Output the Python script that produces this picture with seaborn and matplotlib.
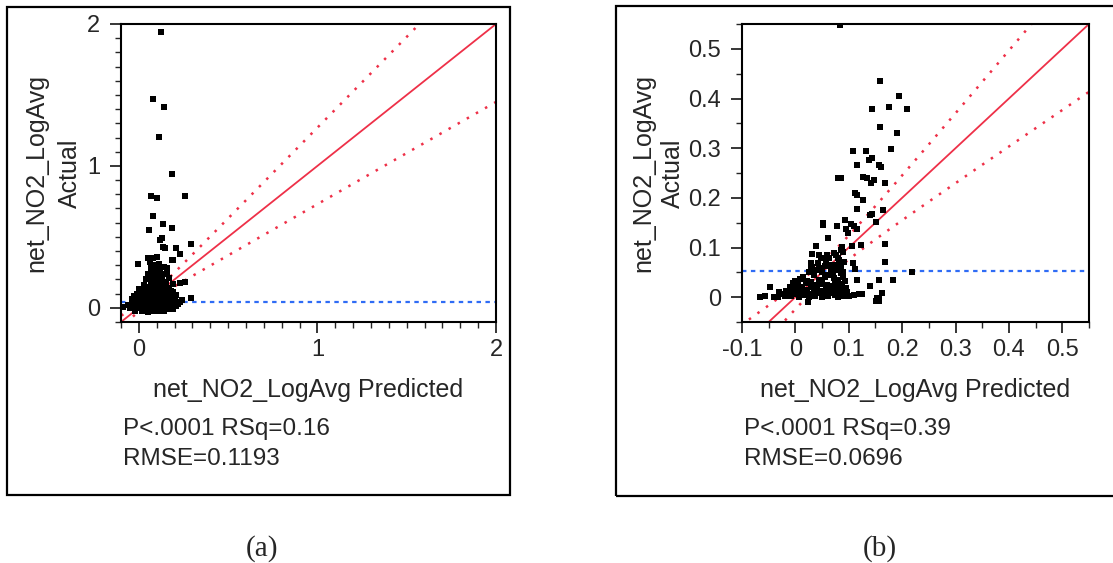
import matplotlib
matplotlib.use('Agg')
import matplotlib.pyplot as plt
from matplotlib.patches import Rectangle
from matplotlib.ticker import MultipleLocator, FuncFormatter
import numpy as np
import seaborn as sns

# panel (a): actual vs predicted
a_pred = [0.124, 0.081, 0.142, 0.113, 0.184, 0.068, 0.100, 0.258, 0.081, 0.058,
          0.133, 0.184, 0.131, 0.118, 0.290, 0.135, 0.146, 0.208, 0.230, 0.053,
          0.081, 0.100, 0.184, 0.193, -0.003, 0.258, 0.230, 0.290, -0.087, 0.230,
          0.240,
          0.06, 0.09, 0.11, 0.07, 0.12, 0.14, 0.10, 0.16, 0.05, 0.08,
          0.13, 0.17, 0.11, 0.04, 0.07, 0.15, 0.09, 0.12, 0.19, 0.03,
          0.06, 0.14, 0.17, 0.10,
          0.00, 0.02, 0.05, 0.08, 0.11, 0.13, 0.16, 0.19, -0.01, 0.03,
          0.06, 0.09, 0.12, 0.15, 0.18, 0.21, -0.03, 0.01, 0.04, 0.07,
          0.10, 0.13, 0.16, 0.20, -0.04, -0.01, 0.02, 0.05, 0.08, 0.11,
          0.14, 0.17, 0.22,
          -0.06, -0.05, -0.03, -0.02, 0.00, 0.01, 0.03, 0.04, 0.06, 0.07,
          0.09, 0.10, 0.12, 0.13, 0.15, 0.16, 0.18, 0.19, 0.21, -0.02,
          0.02, 0.05, 0.08, 0.11, 0.14,
          0.01, 0.03, 0.05, 0.07, 0.09, 0.11, 0.13, 0.15, 0.02, 0.04,
          0.06, 0.08, 0.10, 0.12, 0.14, 0.00, 0.03, 0.05, 0.08, 0.11,
          0.14, 0.17, 0.09, 0.06, 0.04, 0.12, 0.15, 0.18, 0.08, 0.10,
          0.13, 0.06, 0.09, 0.14, 0.11, 0.08, 0.12, 0.16, 0.18, 0.20,
          -0.03, -0.04, 0.02, 0.19, 0.07, 0.10, 0.13, 0.05, 0.03, 0.16]
a_actual = [1.946, 1.474, 1.417, 1.206, 0.941, 0.788, 0.772, 0.788, 0.647, 0.548,
            0.590, 0.560, 0.490, 0.478, 0.450, 0.428, 0.422, 0.419, 0.379, 0.353,
            0.349, 0.356, 0.337, 0.337, 0.309, 0.184, 0.173, 0.071, 0.004, 0.043,
            0.055,
            0.32, 0.30, 0.31, 0.28, 0.27, 0.29, 0.26, 0.25, 0.24, 0.23,
            0.22, 0.21, 0.20, 0.20, 0.19, 0.18, 0.17, 0.16, 0.17, 0.16,
            0.15, 0.15, 0.14, 0.14,
            0.13, 0.12, 0.12, 0.13, 0.12, 0.11, 0.12, 0.11, 0.10, 0.10,
            0.10, 0.10, 0.09, 0.09, 0.08, 0.09, 0.08, 0.08, 0.08, 0.07,
            0.07, 0.07, 0.06, 0.06, 0.06, 0.06, 0.05, 0.05, 0.05, 0.05,
            0.04, 0.04, 0.03,
            0.02, 0.00, 0.03, 0.01, 0.03, 0.00, 0.02, -0.01, 0.02, 0.00,
            0.03, -0.01, 0.02, 0.00, 0.02, -0.01, 0.01, -0.01, 0.01, -0.02,
            -0.02, -0.03, -0.02, -0.02, -0.02,
            0.04, 0.06, 0.03, 0.05, 0.06, 0.03, 0.05, 0.07, 0.09, 0.11,
            0.08, 0.10, 0.09, 0.06, 0.10, 0.06, 0.00, 0.01, 0.01, 0.01,
            0.01, 0.02, 0.13, 0.13, 0.14, 0.14, 0.13, 0.12, 0.16, 0.19,
            0.19, 0.21, 0.22, 0.24, 0.24, 0.26, 0.29, 0.28, 0.06, 0.03,
            0.01, 0.03, 0.02, 0.09, 0.11, 0.04, 0.03, 0.09, 0.08, 0.10]

# panel (b)
b_pred = [0.084, 0.159, 0.194, 0.143, 0.175, 0.209, 0.159, 0.191, 0.180, 0.107,
          0.133, 0.116, 0.137, 0.143, 0.157, 0.160, 0.080, 0.085, 0.126, 0.135,
          0.147, 0.141, 0.168, 0.112, 0.116, 0.126, 0.116, 0.164, 0.140, 0.144,
          0.151, 0.051, 0.052, 0.093, 0.104, 0.110, 0.078, 0.116, 0.095, 0.098,
          0.062, 0.122, 0.106, 0.038, 0.087, 0.168, 0.168, 0.107, 0.112, 0.219,
          0.116, 0.183, 0.156, 0.139, 0.110, 0.120, 0.124, 0.163, 0.023, -0.067,
          -0.057, -0.048, -0.040, 0.151, 0.156, 0.152, 0.157,
          -0.033, -0.028, -0.020, -0.014, -0.008, 0.000, 0.006, 0.012, 0.018, 0.025,
          0.031, 0.037, 0.044, 0.050, 0.056, 0.062, 0.068, 0.074, 0.080, 0.086,
          0.092,
          -0.005, 0.004, 0.012, 0.020, 0.030, 0.040, 0.050, 0.058, 0.066, 0.074,
          0.082, 0.090,
          -0.005, 0.000, 0.008, 0.014, 0.021, 0.029, 0.032, 0.040, 0.045, 0.032,
          0.045, 0.048, 0.057, 0.060, 0.063, 0.073, 0.076, 0.079, 0.082, 0.086,
          0.089, 0.067, 0.070, 0.072, 0.075, 0.078, 0.085, 0.090, 0.093, 0.088,
          0.095, 0.097, 0.100, 0.055, 0.050, 0.060, 0.035, 0.025, 0.030, 0.042,
          0.020, 0.065, 0.055, 0.080, 0.092,
          -0.030, -0.017, -0.004, 0.009, 0.022, 0.035, 0.047, 0.059, 0.071, 0.083,
          0.095, 0.030, 0.045, 0.060, 0.050, 0.070, 0.085, 0.040, 0.065, 0.080,
          0.090, 0.010, 0.000, -0.010, 0.075, 0.085]
b_actual = [0.547, 0.435, 0.406, 0.378, 0.383, 0.378, 0.343, 0.331, 0.299, 0.294,
            0.294, 0.267, 0.276, 0.280, 0.267, 0.263, 0.239, 0.239, 0.242, 0.239,
            0.235, 0.230, 0.230, 0.210, 0.206, 0.195, 0.178, 0.176, 0.165, 0.168,
            0.152, 0.149, 0.146, 0.155, 0.148, 0.143, 0.144, 0.137, 0.137, 0.130,
            0.120, 0.106, 0.103, 0.103, 0.101, 0.107, 0.071, 0.068, 0.056, 0.051,
            0.035, 0.035, 0.034, 0.023, 0.004, 0.007, 0.007, 0.008, -0.010, 0.000,
            0.002, 0.020, 0.000, -0.007, -0.002, -0.002, -0.007,
            0.000, 0.006, 0.003, 0.009, 0.002, 0.007, 0.001, 0.008, 0.004, 0.000,
            0.006, 0.003, 0.009, 0.001, 0.007, 0.002, 0.008, 0.004, 0.000, 0.006,
            0.003,
            0.018, 0.024, 0.016, 0.028, 0.020, 0.015, 0.026, 0.018, 0.022, 0.015,
            0.027, 0.019,
            0.028, 0.032, 0.036, 0.040, 0.033, 0.057, 0.061, 0.054, 0.058, 0.087,
            0.085, 0.079, 0.073, 0.085, 0.078, 0.088, 0.084, 0.078, 0.074, 0.094,
            0.091, 0.055, 0.045, 0.038, 0.030, 0.055, 0.048, 0.040, 0.033, 0.025,
            0.018, 0.010, 0.002, 0.040, 0.030, 0.025, 0.045, 0.050, 0.069, 0.069,
            0.015, 0.065, 0.062, 0.062, 0.070,
            0.011, 0.012, 0.010, 0.012, 0.011, 0.010, 0.012, 0.011, 0.010, 0.012,
            0.011, 0.030, 0.035, 0.045, 0.050, 0.065, 0.060, 0.025, 0.015, 0.035,
            0.050, 0.020, 0.015, 0.020, 0.020, 0.015]

y_label_lines = ['net_NO2_LogAvg', 'Actual']

# fit summary: mean of actual, centre and spread of the confidence curves
panels = [
    dict(pred=a_pred, actual=a_actual, mean=0.041, xbar=0.04, k=0.28, c0=0.02,
         lim=(-0.1, 2.0), ylim=(-0.1, 2.0), major=1.0, minor=0.1,
         stats=['P<.0001 RSq=0.16', 'RMSE=0.1193'], tag='(a)'),
    dict(pred=b_pred, actual=b_actual, mean=0.053, xbar=0.05, k=0.27, c0=0.02,
         lim=(-0.1, 0.55), ylim=(-0.05, 0.55), major=0.1, minor=0.05,
         stats=['P<.0001 RSq=0.39', 'RMSE=0.0696'], tag='(b)'),
]

sns.set_style('white')
plt.rcParams['font.family'] = ['Liberation Sans', 'DejaVu Sans']
plt.rcParams['axes.unicode_minus'] = False

fig = plt.figure(figsize=(11.13, 5.63), dpi=100)
W, H = 1113.0, 563.0

axes_px = [(121, 322, 375, 298), (742, 322, 347, 298)]
boxes_px = [(7, 7, 503, 488), (616, 6, 520, 490)]
label_base_x = [(43, 77), (650, 680)]
tag_x = [262, 880]

red = '#ee3048'
blue = '#2f6cf5'

for p, (l, b, w, h), (bx, by, bw, bh), lbx, tx in zip(panels, axes_px, boxes_px, label_base_x, tag_x):
    ax = fig.add_axes([l / W, 1 - b / H, w / W, h / H])

    sns.scatterplot(x=p['pred'], y=p['actual'], marker='s', color='black',
                    s=13, linewidth=0, ax=ax, zorder=3)

    xs = np.linspace(p['lim'][0] - 0.1, p['lim'][1] + 0.1, 400)
    half = np.sqrt(p['c0'] ** 2 + (p['k'] * (xs - p['xbar'])) ** 2)
    ax.plot(xs, xs, color=red, lw=1.3, zorder=2)
    ax.plot(xs, xs + half, color=red, lw=1.8, ls=(0, (1, 3.2)), zorder=2)
    ax.plot(xs, xs - half, color=red, lw=1.8, ls=(0, (1, 3.2)), zorder=2)
    ax.axhline(p['mean'], color=blue, lw=1.6, ls=(0, (2, 2)), zorder=2)

    ax.set_xlim(*p['lim'])
    ax.set_ylim(*p['ylim'])
    ax.xaxis.set_major_locator(MultipleLocator(p['major']))
    ax.yaxis.set_major_locator(MultipleLocator(p['major']))
    ax.xaxis.set_minor_locator(MultipleLocator(p['minor']))
    ax.yaxis.set_minor_locator(MultipleLocator(p['minor']))
    fmt = FuncFormatter(lambda v, pos: f'{round(v, 2):g}')
    ax.xaxis.set_major_formatter(fmt)
    ax.yaxis.set_major_formatter(fmt)

    for s in ax.spines.values():
        s.set_linewidth(1.5)
        s.set_color('black')
    ax.tick_params(which='major', direction='out', length=8, width=1.3,
                   labelsize=17, bottom=True, left=True)
    ax.tick_params(which='minor', direction='out', length=4.5, width=1.0,
                   bottom=True, left=True)
    ax.tick_params(axis='x', which='major', pad=4)
    ax.tick_params(axis='y', which='major', pad=7)

    ax.set_xlabel('net_NO2_LogAvg Predicted', fontsize=18, va='baseline')
    ax.xaxis.set_label_coords(0.5, (322 - 397) / 298)
    # two-line y label, each line placed at its own baseline
    for line, bxl in zip(y_label_lines, lbx):
        fig.text(bxl / W, 1 - 173 / H, line, fontsize=18, rotation=90,
                 rotation_mode='anchor', ha='center', va='baseline')

    ax.text(0.005, (322 - 435) / 298, p['stats'][0], transform=ax.transAxes,
            fontsize=17.5, va='baseline', ha='left')
    ax.text(0.005, (322 - 465) / 298, p['stats'][1], transform=ax.transAxes,
            fontsize=17.5, va='baseline', ha='left')

    fig.patches.append(Rectangle((bx / W, 1 - (by + bh) / H), bw / W, bh / H,
                                 transform=fig.transFigure, fill=False,
                                 lw=1.6, ec='black'))
    fig.text(tx / W, 1 - 556 / H, p['tag'], fontsize=21, ha='center',
             va='baseline', family='Liberation Serif')

fig.savefig('out.png', dpi=100)
